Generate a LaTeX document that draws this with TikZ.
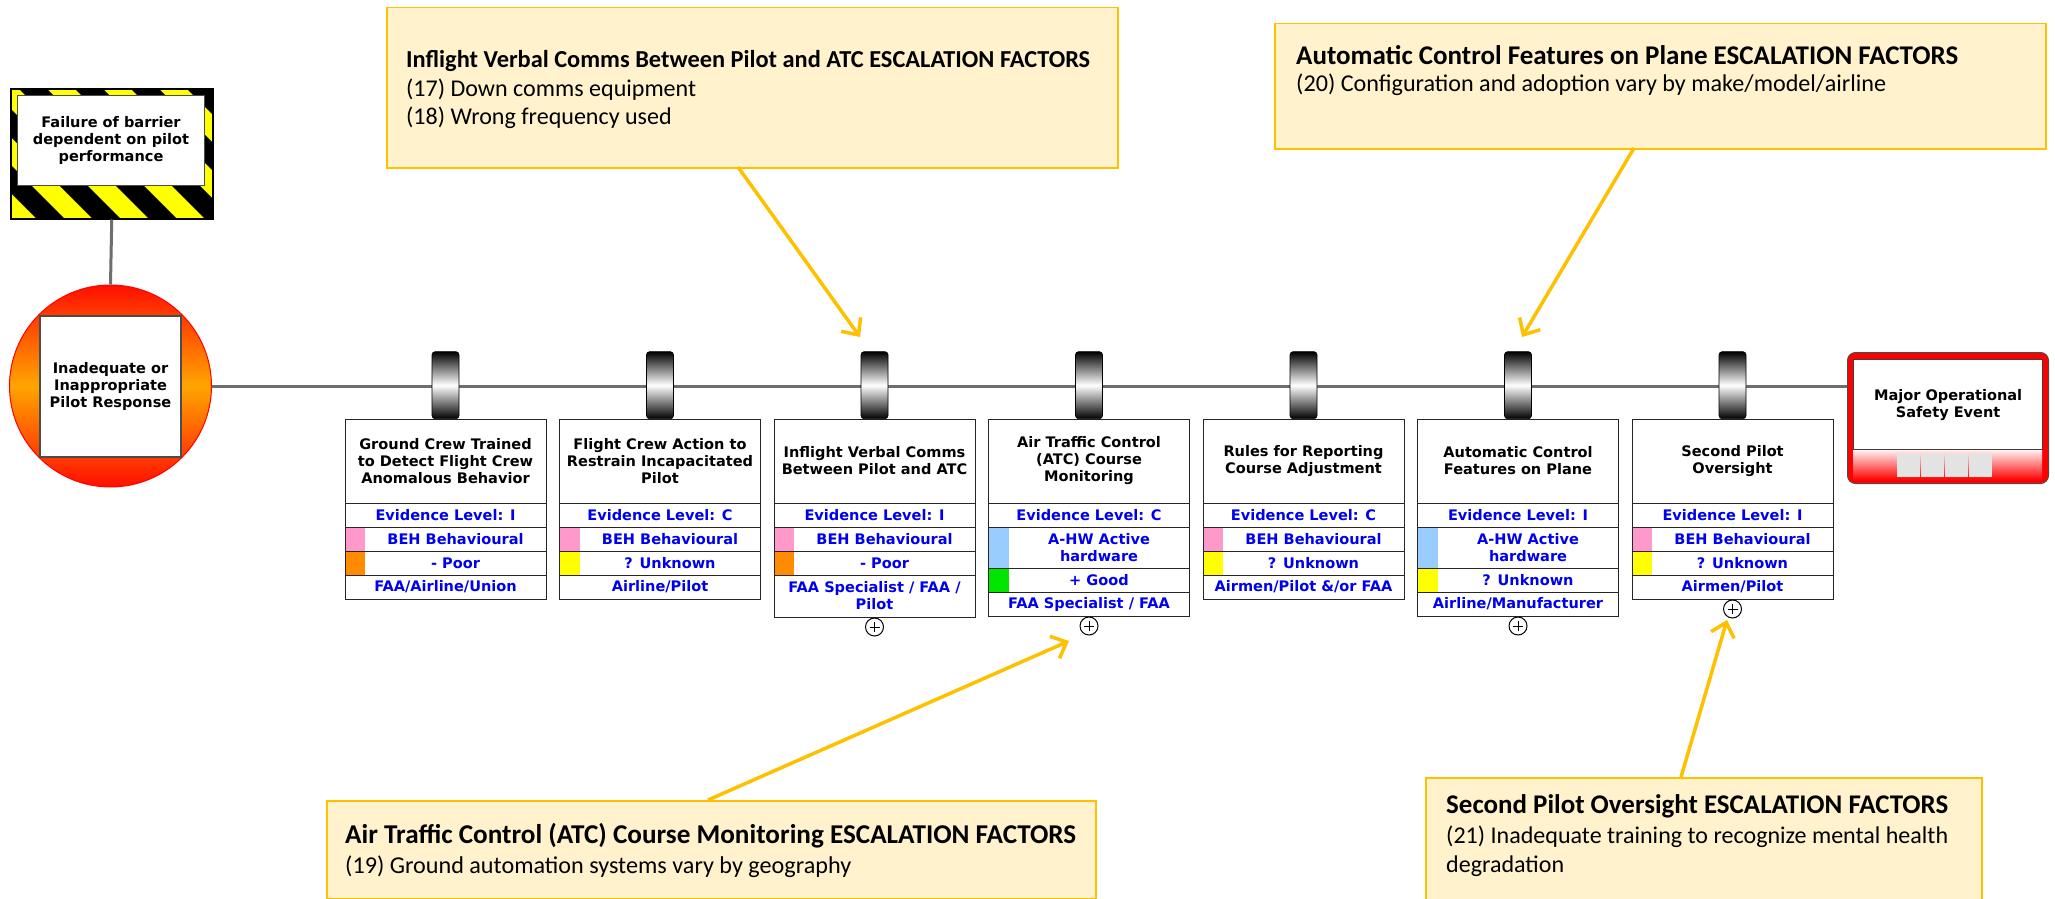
\documentclass[tikz,border=0pt]{standalone}
\usepackage{fontspec}
\setmainfont{DejaVu Sans}
\newfontfamily\cardface{DejaVu Sans}
\newfontfamily\callfont{Carlito}
\usetikzlibrary{arrows.meta,calc}

\definecolor{linegray}{HTML}{6E6E6E}
\definecolor{notefill}{HTML}{FFF2CC}
\definecolor{noteedge}{HTML}{FFC000}
\definecolor{keypink}{HTML}{FF99CC}
\definecolor{keyorange}{HTML}{FF8C00}
\definecolor{keyyellow}{HTML}{FFFF00}
\definecolor{keyblue}{HTML}{99CCFF}
\definecolor{keygreen}{HTML}{00E600}
\definecolor{rowblue}{HTML}{0000EE}
\definecolor{hazyellow}{HTML}{FFFF00}
\definecolor{firered}{HTML}{FF0F00}
\definecolor{fireorange}{HTML}{FFA500}
\definecolor{slotgray}{HTML}{E3E3E3}

% font size (pt) that makes the line #4 exactly #2 pt wide in the font switch #3
\newlength\fitlen
\newcommand\fitsize[4]{%
  \setbox0=\hbox{#3\fontsize{10pt}{12pt}\selectfont #4}%
  \global\fitlen=\wd0
  \pgfmathsetmacro\fittmp{10*#2/\fitlen}%
  \global\let#1\fittmp}
\AtBeginDocument{%
  % card lettering: set at 10pt, then scaled as a whole
  \setbox0=\hbox{\cardface\bfseries\fontsize{10pt}{12pt}\selectfont Evidence Level: I}%
  \global\fitlen=\wd0
  \pgfmathsetmacro\fittmp{140/\fitlen}\global\let\cardscale\fittmp
  \pgfmathsetmacro\fittmp{17/\cardscale}\global\let\cardskip\fittmp
  \fitsize\szA{684}{\callfont\bfseries}{Inflight Verbal Comms Between Pilot and ATC ESCALATION FACTORS}%
  \fitsize\szB{662}{\callfont\bfseries}{Automatic Control Features on Plane ESCALATION FACTORS}%
  \fitsize\szC{731}{\callfont\bfseries}{Air Traffic Control (ATC) Course Monitoring ESCALATION FACTORS}%
  \fitsize\szD{502}{\callfont\bfseries}{Second Pilot Oversight ESCALATION FACTORS}%
  \fitsize\szAb{290}{\callfont}{(17) Down comms equipment}%
  \fitsize\szBb{590}{\callfont}{(20) Configuration and adoption vary by make/model/airline}%
  \fitsize\szCb{506}{\callfont}{(19) Ground automation systems vary by geography}%
  \fitsize\szDb{502}{\callfont}{(21) Inadequate training to recognize mental health}}

\newcommand\cardfnt{\cardface\bfseries\fontsize{10pt}{\cardskip pt}\selectfont}

% title cell of a barrier card, with its clamp on the line
\newcommand\titlecell[4]{% name, left, clamp name, text
  \node[cell, minimum height=84pt, anchor=north west] (#1) at (#2,419) {};
  \node[cardtext] (#1-t) at (#1.center) {#4};
  \node[barclamp, anchor=south] (#3) at (#1.north) {};}
% one full-width row of a barrier card
\newcommand\fullrow[5]{% name, left, top, height, text
  \node[cell, minimum height=#4pt, anchor=north west] (#1) at (#2,#3) {};
  \node[cardtext, text=rowblue] (#1-t) at (#1.center) {#5};}
% one row with a colour key at its left end
\newcommand\keyrow[6]{% name, left, top, height, key colour, text
  \fill[#5] (#2,#3) rectangle ++(20,#4);
  \node[cell, minimum height=#4pt, anchor=north west] (#1) at (#2,#3) {};
  \node[cardtext, text=rowblue] (#1-t) at ($(#1.center)+(10,0)$) {#6};}

\begin{document}
\begin{tikzpicture}[x=1pt,y=-1pt,
  link/.style={draw=linegray,line width=3pt},
  cell/.style={draw=black!85,line width=1pt,minimum width=201pt,inner sep=0pt,outer sep=0pt},
  cardtext/.style={inner sep=0pt,align=center,font=\cardfnt,scale=\cardscale,transform shape},
  barclamp/.style={draw=black,line width=0.6pt,rounded corners=3pt,minimum width=27pt,minimum height=67pt,inner sep=0pt,
    top color=black,bottom color=black,middle color=white},
  plusmark/.style={circle,draw=black,line width=1pt,minimum size=18pt,inner sep=0pt,
    path picture={\draw[line width=1pt]
      ([xshift=-5pt]path picture bounding box.center) -- ([xshift=5pt]path picture bounding box.center)
      ([yshift=-5pt]path picture bounding box.center) -- ([yshift=5pt]path picture bounding box.center);}},
  note/.style={draw=noteedge,fill=notefill,line width=1.5pt,inner sep=0pt,anchor=north west},
  noteline/.style={anchor=base west,inner sep=0pt},
  notearrow/.style={draw=noteedge,line width=3.5pt,-{Straight Barb[length=13pt,width=24pt]}},
]
\useasboundingbox (0,0) rectangle (2055,899);
\fill[white] (0,0) rectangle (2055,899);

% ---------- hazard (striped frame) ----------
\begin{scope}
  \clip (10,88) rectangle (212,218);
  \fill[hazyellow] (10,88) rectangle (212,218);
  \foreach \s in {-150,-94,...,250}
    \fill[black] (\s,88) -- ++(28,0) -- ++(130,130) -- ++(-28,0) -- cycle;
\end{scope}
\node[draw=black,line width=1.5pt,minimum width=202pt,minimum height=130pt,inner sep=0pt,anchor=north west] (haz) at (10,88) {};
\node[draw=black!70,line width=1pt,fill=white,minimum width=187pt,minimum height=90pt,inner sep=0pt,
  anchor=north west] (hazb) at (17,95) {};
\node[cardtext] (hazt) at (hazb.center) {Failure of barrier\\dependent on pilot\\performance};

% ---------- threat circle ----------
\node[circle,draw=red,line width=1pt,minimum size=202pt,inner sep=0pt,
  top color=firered,bottom color=firered,middle color=fireorange] (cause) at (110.5,386) {};
\node[draw=black!70,line width=1.2pt,fill=white,minimum size=141pt,inner sep=0pt] (causeb) at (110.5,386.5) {};
\node[cardtext] (causet) at (causeb.center) {Inadequate or\\Inappropriate\\Pilot Response};

% ---------- top event ----------
\node[rounded corners=8pt,draw=black!70,line width=1pt,fill=red,minimum width=201pt,minimum height=131pt,
  inner sep=0pt,anchor=north west] (event) at (1847,352) {};
\shade[top color=red!6,bottom color=red] (1853,450) rectangle (2042,480);
\foreach \k in {0,1,2,3}
  \fill[slotgray] (1897+24*\k,454) rectangle ++(23,23);
\node[draw=black!75,line width=1.2pt,fill=white,minimum width=189pt,minimum height=90pt,inner sep=0pt,
  anchor=north west] (eventb) at (1853,359) {};
\node[cardtext] (eventt) at (eventb.center) {Major Operational\\Safety Event};

% ---------- connectors ----------
\draw[link] (haz.south) -- (cause.north);
\draw[link] (cause.east) -- (cause.east -| event.west);

% ---------- barrier cards ----------
% 1
\titlecell{b1}{345}{k1}{Ground Crew Trained\\to Detect Flight Crew\\Anomalous Behavior}
\fullrow{b1e}{345}{503}{24}{Evidence Level: I}
\keyrow{b1m}{345}{527}{24}{keypink}{BEH Behavioural}
\keyrow{b1q}{345}{551}{24}{keyorange}{- Poor}
\fullrow{b1o}{345}{575}{24}{FAA/Airline/Union}
% 2
\titlecell{b2}{559.5}{k2}{Flight Crew Action to\\Restrain Incapacitated\\Pilot}
\fullrow{b2e}{559.5}{503}{24}{Evidence Level: C}
\keyrow{b2m}{559.5}{527}{24}{keypink}{BEH Behavioural}
\keyrow{b2q}{559.5}{551}{24}{keyyellow}{? Unknown}
\fullrow{b2o}{559.5}{575}{24}{Airline/Pilot}
% 3
\titlecell{b3}{774}{k3}{Inflight Verbal Comms\\Between Pilot and ATC}
\fullrow{b3e}{774}{503}{24}{Evidence Level: I}
\keyrow{b3m}{774}{527}{24}{keypink}{BEH Behavioural}
\keyrow{b3q}{774}{551}{24}{keyorange}{- Poor}
\fullrow{b3o}{774}{575}{42}{FAA Specialist / FAA /\\Pilot}
\node[plusmark] (p3) at (874.5,627) {};
% 4
\titlecell{b4}{988.5}{k4}{Air Traffic Control\\(ATC) Course\\Monitoring}
\fullrow{b4e}{988.5}{503}{24}{Evidence Level: C}
\keyrow{b4m}{988.5}{527}{41}{keyblue}{A-HW Active\\hardware}
\keyrow{b4q}{988.5}{568}{24}{keygreen}{+ Good}
\fullrow{b4o}{988.5}{592}{24}{FAA Specialist / FAA}
\node[plusmark] (p4) at (1089,626) {};
% 5
\titlecell{b5}{1203}{k5}{Rules for Reporting\\Course Adjustment}
\fullrow{b5e}{1203}{503}{24}{Evidence Level: C}
\keyrow{b5m}{1203}{527}{24}{keypink}{BEH Behavioural}
\keyrow{b5q}{1203}{551}{24}{keyyellow}{? Unknown}
\fullrow{b5o}{1203}{575}{24}{Airmen/Pilot \&/or FAA}
% 6
\titlecell{b6}{1417.5}{k6}{Automatic Control\\Features on Plane}
\fullrow{b6e}{1417.5}{503}{24}{Evidence Level: I}
\keyrow{b6m}{1417.5}{527}{41}{keyblue}{A-HW Active\\hardware}
\keyrow{b6q}{1417.5}{568}{24}{keyyellow}{? Unknown}
\fullrow{b6o}{1417.5}{592}{24}{Airline/Manufacturer}
\node[plusmark] (p6) at (1518,626) {};
% 7
\titlecell{b7}{1632}{k7}{Second Pilot\\Oversight}
\fullrow{b7e}{1632}{503}{24}{Evidence Level: I}
\keyrow{b7m}{1632}{527}{24}{keypink}{BEH Behavioural}
\keyrow{b7q}{1632}{551}{24}{keyyellow}{? Unknown}
\fullrow{b7o}{1632}{575}{24}{Airmen/Pilot}
\node[plusmark] (p7) at (1732.5,609) {};

% ---------- escalation factor notes ----------
\node[note,minimum width=731pt,minimum height=160pt] (n1) at (386,7) {};
\node[noteline,font=\callfont\bfseries\fontsize{\szA}{\szA}\selectfont] (n1h) at (406,67)
  {Inflight Verbal Comms Between Pilot and ATC ESCALATION FACTORS};
\node[noteline,font=\callfont\fontsize{\szAb}{\szAb}\selectfont] (n1a) at (406,96) {(17) Down comms equipment};
\node[noteline,font=\callfont\fontsize{\szAb}{\szAb}\selectfont] (n1b) at (406,124) {(18) Wrong frequency used};

\node[note,minimum width=771pt,minimum height=125pt] (n2) at (1274,23) {};
\node[noteline,font=\callfont\bfseries\fontsize{\szB}{\szB}\selectfont] (n2h) at (1296,65)
  {Automatic Control Features on Plane ESCALATION FACTORS};
\node[noteline,font=\callfont\fontsize{\szBb}{\szBb}\selectfont] (n2a) at (1296,92)
  {(20) Configuration and adoption vary by make/model/airline};

\node[note,minimum width=769pt,minimum height=98pt] (n3) at (326,800) {};
\node[noteline,font=\callfont\bfseries\fontsize{\szC}{\szC}\selectfont] (n3h) at (345,843)
  {Air Traffic Control (ATC) Course Monitoring ESCALATION FACTORS};
\node[noteline,font=\callfont\fontsize{\szCb}{\szCb}\selectfont] (n3a) at (345,873)
  {(19) Ground automation systems vary by geography};

\node[note,minimum width=556pt,minimum height=140pt] (n4) at (1425,777) {};
\node[noteline,font=\callfont\bfseries\fontsize{\szD}{\szD}\selectfont] (n4h) at (1446,813)
  {Second Pilot Oversight ESCALATION FACTORS};
\node[noteline,font=\callfont\fontsize{\szDb}{\szDb}\selectfont] (n4a) at (1446,843)
  {(21) Inadequate training to recognize mental health};
\node[noteline,font=\callfont\fontsize{\szDb}{\szDb}\selectfont] (n4b) at (1446,872)
  {degradation};

% ---------- pointers from notes to barriers ----------
\coordinate (a1s) at (738,167);   \coordinate (a1e) at (860,337);
\coordinate (a2s) at (1634,148);  \coordinate (a2e) at (1522,337);
\coordinate (a3s) at (708,800);   \coordinate (a3e) at (1069,641);
\coordinate (a4s) at (1681,777);  \coordinate (a4e) at (1727,620);
\draw[notearrow] (a1s) -- (a1e);
\draw[notearrow] (a2s) -- (a2e);
\draw[notearrow] (a3s) -- (a3e);
\draw[notearrow] (a4s) -- (a4e);
\end{tikzpicture}
\end{document}
